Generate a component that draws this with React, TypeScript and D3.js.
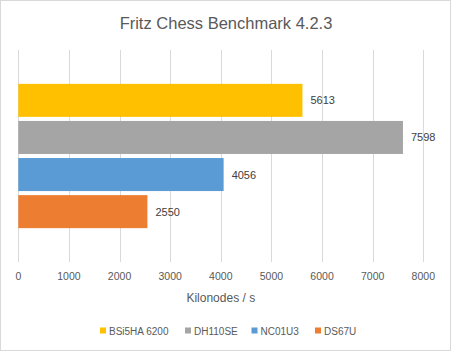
import React, { useEffect, useRef } from 'react';
import * as d3 from 'd3';

const title = 'Fritz Chess Benchmark 4.2.3';
const seriesNames = ['BSi5HA 6200', 'DH110SE', 'NC01U3', 'DS67U'];
const seriesValues = [5613, 7598, 4056, 2550];
const seriesColors = ['#ffc000', '#a5a5a5', '#5b9bd5', '#ed7d31'];
const xTicks = [0, 1000, 2000, 3000, 4000, 5000, 6000, 7000, 8000];
const axisTitle = 'Kilonodes / s';

const W = 451;
const H = 351;

export default function App() {
  const ref = useRef<SVGSVGElement>(null);

  useEffect(() => {
    if (!ref.current) return;
    document.body.style.margin = '0';
    const svg = d3.select(ref.current);
    svg.selectAll('*').remove();

    const font = '"Liberation Sans", Arial, sans-serif';
    const plot = { left: 18.3, right: 423.3, top: 50, bottom: 262 };

    // outer frame
    svg.append('rect')
      .attr('x', 0.5).attr('y', 0.5)
      .attr('width', W - 1).attr('height', H - 1)
      .attr('fill', '#fff')
      .attr('stroke', '#d9d9d9');

    svg.append('text')
      .attr('x', W / 2 + 0.5)
      .attr('y', 29)
      .attr('text-anchor', 'middle')
      .attr('font-family', font)
      .attr('font-size', '16.5px')
      .attr('fill', '#595959')
      .text(title);

    const x = d3.scaleLinear().domain([0, 8000]).range([plot.left, plot.right]);

    // bars sit in the middle of the plot, with padding above and below
    const y = d3.scaleBand<string>()
      .domain(seriesNames)
      .range([plot.top + 32, plot.bottom - 32])
      .paddingInner(0.11)
      .paddingOuter(0.05);

    // gridlines
    svg.append('g')
      .selectAll('line')
      .data(xTicks)
      .enter()
      .append('line')
      .attr('x1', d => Math.round(x(d)) + 0.5)
      .attr('x2', d => Math.round(x(d)) + 0.5)
      .attr('y1', plot.top)
      .attr('y2', plot.bottom)
      .attr('stroke', '#d9d9d9')
      .attr('stroke-width', 1);

    // tick labels
    svg.append('g')
      .selectAll('text')
      .data(xTicks)
      .enter()
      .append('text')
      .attr('x', d => x(d))
      .attr('y', 279.5)
      .attr('text-anchor', 'middle')
      .attr('font-family', font)
      .attr('font-size', '10.5px')
      .attr('fill', '#595959')
      .text(d => String(d));

    svg.append('text')
      .attr('x', (plot.left + plot.right) / 2)
      .attr('y', 301.5)
      .attr('text-anchor', 'middle')
      .attr('font-family', font)
      .attr('font-size', '12px')
      .attr('fill', '#595959')
      .text(axisTitle);

    // bars
    const bars = svg.append('g');
    seriesNames.forEach((name, i) => {
      bars.append('rect')
        .attr('x', x(0))
        .attr('y', y(name)!)
        .attr('width', x(seriesValues[i]) - x(0))
        .attr('height', y.bandwidth())
        .attr('fill', seriesColors[i]);

      bars.append('text')
        .attr('x', x(seriesValues[i]) + 8)
        .attr('y', y(name)! + y.bandwidth() / 2 + 4)
        .attr('font-family', font)
        .attr('font-size', '11px')
        .attr('fill', '#404040')
        .text(String(seriesValues[i]));
    });

    // legend
    const legendX = [100, 185, 251.5, 315];
    const legend = svg.append('g');
    seriesNames.forEach((name, i) => {
      legend.append('rect')
        .attr('x', legendX[i])
        .attr('y', 327.5)
        .attr('width', 6)
        .attr('height', 6)
        .attr('fill', seriesColors[i]);
      legend.append('text')
        .attr('x', legendX[i] + 9)
        .attr('y', 334.5)
        .attr('font-family', font)
        .attr('font-size', '10px')
        .attr('fill', '#595959')
        .text(name);
    });
  }, []);

  return <svg ref={ref} width={W} height={H} style={{ display: 'block' }} />;
}
